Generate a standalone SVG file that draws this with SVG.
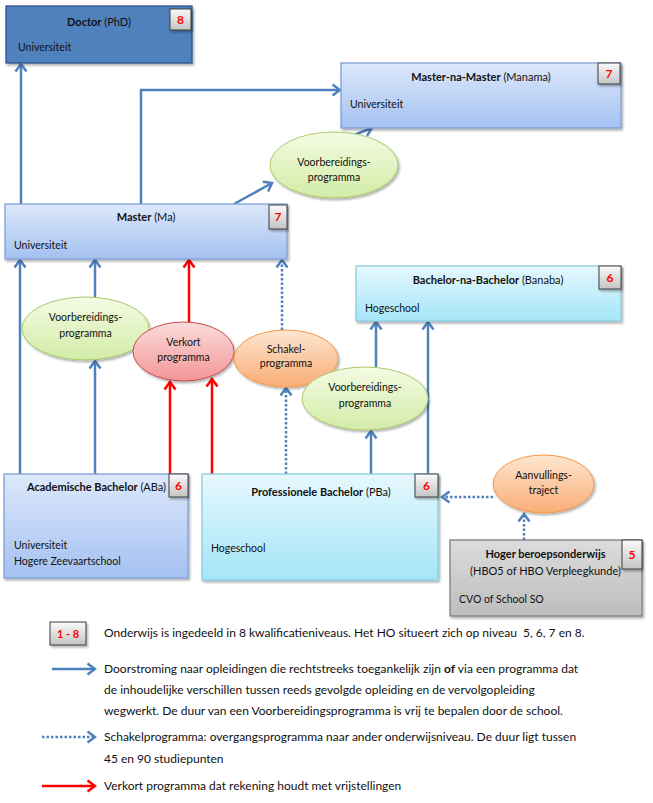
<svg xmlns="http://www.w3.org/2000/svg" width="653" height="803" viewBox="0 0 653 803">
<defs>
<linearGradient id="gBlue" x1="0" y1="0" x2="0" y2="1"><stop offset="0" stop-color="#dde8fb"/><stop offset="1" stop-color="#a4c1f1"/></linearGradient>
<linearGradient id="gCyan" x1="0" y1="0" x2="0" y2="1"><stop offset="0" stop-color="#e6f8fd"/><stop offset="1" stop-color="#a4e5f8"/></linearGradient>
<linearGradient id="gGray" x1="0" y1="0" x2="0" y2="1"><stop offset="0" stop-color="#dcdcdc"/><stop offset="1" stop-color="#bdbdbd"/></linearGradient>
<linearGradient id="gBadge" x1="0" y1="0" x2="0" y2="1"><stop offset="0" stop-color="#fafafa"/><stop offset="1" stop-color="#c4c4c4"/></linearGradient>
<linearGradient id="gGreen" x1="0" y1="0" x2="0" y2="1"><stop offset="0" stop-color="#f4fbe4"/><stop offset="1" stop-color="#d2eca6"/></linearGradient>
<linearGradient id="gRed" x1="0" y1="0" x2="0" y2="1"><stop offset="0" stop-color="#fcdcdc"/><stop offset="1" stop-color="#f29696"/></linearGradient>
<linearGradient id="gOrange" x1="0" y1="0" x2="0" y2="1"><stop offset="0" stop-color="#fde6d0"/><stop offset="1" stop-color="#f9ad76"/></linearGradient>
<filter id="sh" x="-10%" y="-10%" width="120%" height="130%"><feDropShadow dx="1.5" dy="2" stdDeviation="1.2" flood-color="#000" flood-opacity="0.3"/></filter>
<marker id="aB" markerUnits="userSpaceOnUse" viewBox="-10 -7 12 14" markerWidth="12" markerHeight="14" refX="0" refY="0" orient="auto"><path d="M-7.5,-5.5 L0,0 L-7.5,5.5" fill="none" stroke="#4f81bd" stroke-width="2.5"/></marker>
<marker id="aR" markerUnits="userSpaceOnUse" viewBox="-10 -7 12 14" markerWidth="12" markerHeight="14" refX="0" refY="0" orient="auto"><path d="M-7.5,-5.5 L0,0 L-7.5,5.5" fill="none" stroke="#ff0000" stroke-width="2.5"/></marker>
</defs>
<style>
text{font-family:Lato,"Liberation Sans",sans-serif;fill:#111;}
.t{font-size:10.5px;text-anchor:middle;}
.h{font-size:11px;}
.b{font-weight:bold;}
.s{font-size:10.5px;}
.n{font-size:12px;font-weight:bold;fill:#ff0000;text-anchor:middle;}
.lg{font-size:12px;white-space:pre;}
.box{filter:url(#sh);stroke-width:1.3;}
.bl{fill:url(#gBlue);stroke:#7f9fd6;}
.cy{fill:url(#gCyan);stroke:#8ccde0;}
.gr{fill:url(#gGray);stroke:#7f7f7f;}
.bd{fill:url(#gBadge);stroke:#3f3f3f;stroke-width:1;filter:url(#sh);}
.e{stroke-width:1;filter:url(#sh);}
.c{fill:none;stroke:#4f81bd;stroke-width:2.5;marker-end:url(#aB);}
.d{stroke-dasharray:2.5 2;}
.r{fill:none;stroke:#ff0000;stroke-width:2.5;marker-end:url(#aR);}
</style>
<rect width="653" height="803" fill="#fff"/>

<g id="connectors">
<path class="c" d="M20,474 V260"/>
<path class="c" d="M21,204 V64"/>
<path class="c" d="M141,204 V90 H340"/>
<path class="c" d="M234,204 L272,183"/>
<path class="c" d="M341,140 L372,128"/>
<path class="c" d="M95,297 V260"/>
<path class="c" d="M95,474 V361"/>
<path class="r" d="M189,322 V260"/>
<path class="r" d="M170,474 V382"/>
<path class="r" d="M212,474 V379"/>
<path class="c d" d="M282,330 V260"/>
<path class="c d" d="M286,474 V388"/>
<path class="c" d="M376,367 V322"/>
<path class="c" d="M428,474 V322"/>
<path class="c" d="M371,474 V431"/>
<path class="c d" d="M493,497 H442"/>
<path class="c d" d="M524,540 V514"/>
</g>

<g id="doctor">
<rect class="box" x="6" y="6" width="186" height="57" fill="#4f81bd" stroke="#2f528f"/>
<rect class="bd" x="170" y="9" width="21" height="21"/>
<text class="n" x="180.5" y="24">8</text>
<text class="t h" x="99" y="26"><tspan class="b">Doctor</tspan> (PhD)</text>
<text class="s" x="18" y="51">Universiteit</text>
</g>

<g id="manama">
<rect class="box bl" x="341" y="63" width="280" height="65"/>
<rect class="bd" x="598" y="63" width="22" height="21"/>
<text class="n" x="609" y="78">7</text>
<text class="t h" x="481" y="81"><tspan class="b">Master-na-Master</tspan> (Manama)</text>
<text class="s" x="350" y="108">Universiteit</text>
</g>

<g id="master">
<rect class="box bl" x="5" y="204" width="282" height="55"/>
<rect class="bd" x="269" y="205" width="18" height="24"/>
<text class="n" x="278" y="221">7</text>
<text class="t h" x="146" y="221"><tspan class="b">Master</tspan> (Ma)</text>
<text class="s" x="14" y="249">Universiteit</text>
</g>

<g id="banaba">
<rect class="box cy" x="356" y="266" width="265" height="55"/>
<rect class="bd" x="599" y="266" width="22" height="23"/>
<text class="n" x="610" y="282">6</text>
<text class="t h" x="488" y="284"><tspan class="b">Bachelor-na-Bachelor</tspan> (Banaba)</text>
<text class="s" x="365" y="312">Hogeschool</text>
</g>

<g id="aba">
<rect class="box bl" x="4" y="474" width="184" height="104"/>
<rect class="bd" x="169" y="474" width="19" height="23"/>
<text class="n" x="178.5" y="490">6</text>
<text class="t h" x="96.5" y="491"><tspan class="b">Academische Bachelor</tspan> (ABa)</text>
<text class="s" x="14" y="549">Universiteit</text>
<text class="s" x="14" y="565">Hogere Zeevaartschool</text>
</g>

<g id="pba">
<rect class="box cy" x="202" y="474" width="236" height="106"/>
<rect class="bd" x="415" y="474" width="23" height="23"/>
<text class="n" x="426.5" y="490">6</text>
<text class="t h" x="321" y="496"><tspan class="b">Professionele Bachelor</tspan> (PBa)</text>
<text class="s" x="211" y="552">Hogeschool</text>
</g>

<g id="hbo">
<rect class="box gr" x="450" y="540" width="192" height="76"/>
<rect class="bd" x="622" y="540" width="20" height="29"/>
<text class="n" x="632" y="559">5</text>
<text class="t h b" x="545.5" y="558">Hoger beroepsonderwijs</text>
<text class="t h" x="545.5" y="575">(HBO5 of HBO Verpleegkunde)</text>
<text class="s" x="459" y="603">CVO of School SO</text>
</g>

<g id="vp-top">
<ellipse class="e" cx="334" cy="165" rx="64" ry="33" fill="url(#gGreen)" stroke="#a9c86b"/>
<text class="t" x="334" y="166">Voorbereidings-</text>
<text class="t" x="334" y="181">programma</text>
</g>

<g id="vp-left">
<ellipse class="e" cx="85.5" cy="328.5" rx="63.5" ry="31.5" fill="url(#gGreen)" stroke="#a9c86b"/>
<text class="t" x="85.5" y="321">Voorbereidings-</text>
<text class="t" x="85.5" y="337">programma</text>
</g>

<g id="verkort">
<ellipse class="e" cx="183.5" cy="351.5" rx="50.5" ry="29.5" fill="url(#gRed)" stroke="#c0504d"/>
<text class="t" x="183.5" y="346">Verkort</text>
<text class="t" x="183.5" y="361">programma</text>
</g>

<g id="schakel">
<ellipse class="e" cx="286" cy="358.5" rx="52" ry="28.5" fill="url(#gOrange)" stroke="#f79646"/>
<text class="t" x="286" y="353">Schakel-</text>
<text class="t" x="286" y="367">programma</text>
</g>

<g id="vp-mid">
<ellipse class="e" cx="365" cy="398.5" rx="63" ry="31.5" fill="url(#gGreen)" stroke="#a9c86b"/>
<text class="t" x="365" y="391">Voorbereidings-</text>
<text class="t" x="365" y="407">programma</text>
</g>

<g id="aanvulling">
<ellipse class="e" cx="543.5" cy="484" rx="50.5" ry="29" fill="url(#gOrange)" stroke="#f79646"/>
<text class="t" x="543.5" y="479">Aanvullings-</text>
<text class="t" x="543.5" y="494">traject</text>
</g>

<g id="legend">
<rect class="bd" x="50" y="622" width="36" height="23"/>
<text class="n" x="68" y="638" style="font-size:11px">1 - 8</text>
<text class="lg" x="104" y="637">Onderwijs is ingedeeld in 8 kwalificatieniveaus. Het HO situeert zich op niveau&#160; 5, 6, 7 en 8.</text>
<path class="c" d="M52,669 H95"/>
<text class="lg" x="104" y="673">Doorstroming naar opleidingen die rechtstreeks toegankelijk zijn <tspan class="b">of</tspan> via een programma dat</text>
<text class="lg" x="104" y="694">de inhoudelijke verschillen tussen reeds gevolgde opleiding en de vervolgopleiding</text>
<text class="lg" x="104" y="715">wegwerkt. De duur van een Voorbereidingsprogramma is vrij te bepalen door de school.</text>
<path class="c d" d="M42,737 H95"/>
<text class="lg" x="104" y="741">Schakelprogramma: overgangsprogramma naar ander onderwijsniveau. De duur ligt tussen</text>
<text class="lg" x="104" y="763">45 en 90 studiepunten</text>
<path class="r" d="M42,786 H95"/>
<text class="lg" x="104" y="790">Verkort programma dat rekening houdt met vrijstellingen</text>
</g>
</svg>
